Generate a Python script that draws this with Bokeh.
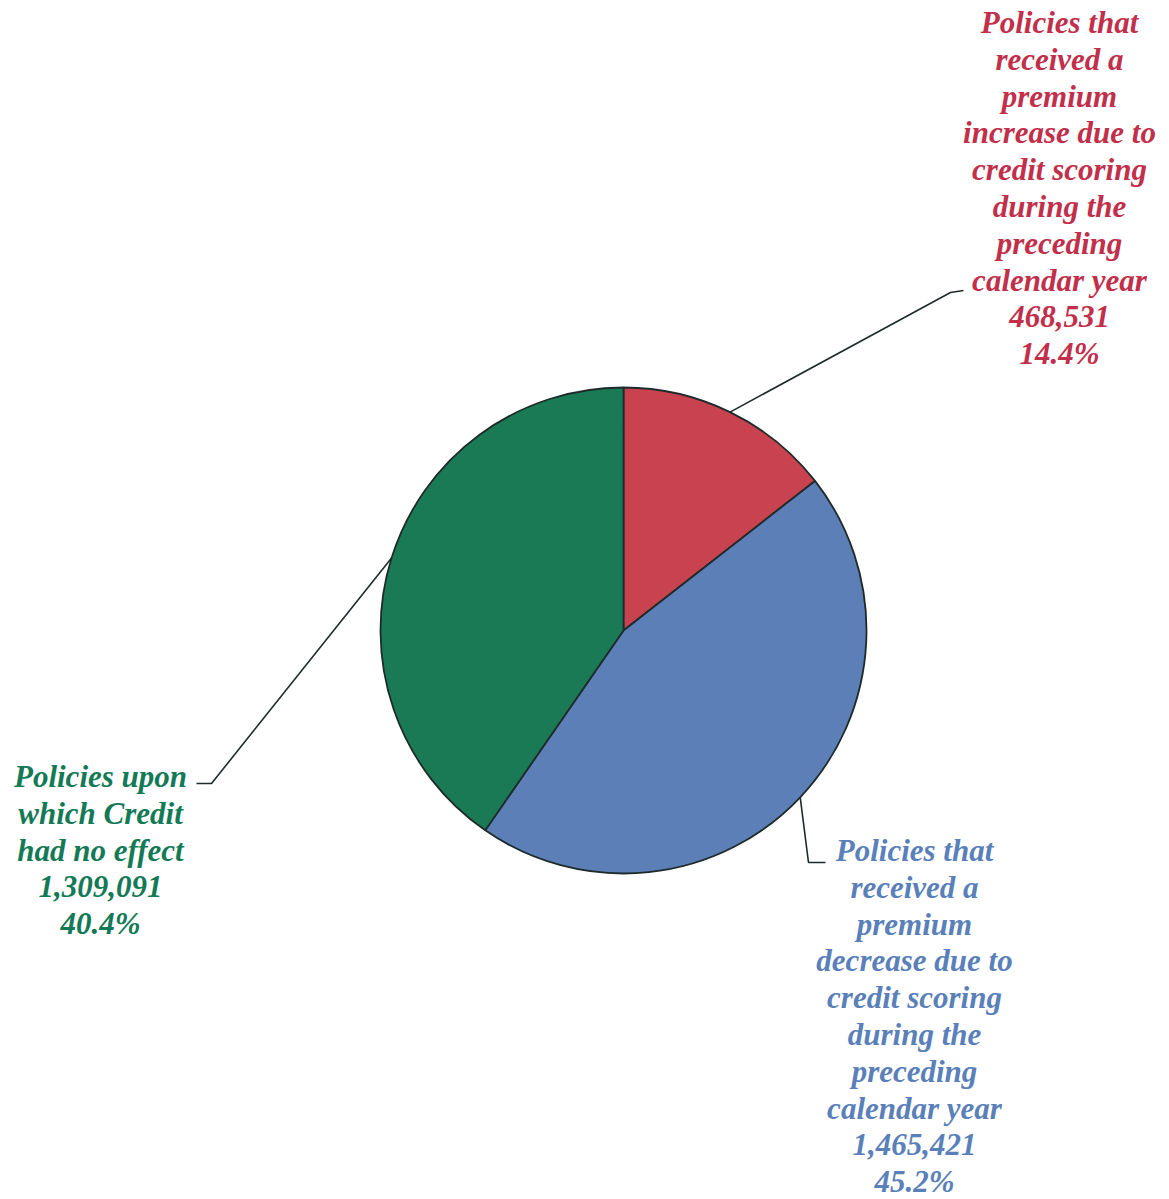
import math
from bokeh.plotting import figure
from bokeh.models import Range1d
from bokeh.core.properties import value
from bokeh.embed import file_html
from bokeh.resources import INLINE

# ---- data ----
categories = ["Increase", "Decrease", "No effect"]
counts = [468531, 1465421, 1309091]
slice_colors = ["#c8424f", "#5b7fb6", "#1b7a56"]
text_colors = ["#c22f4a", "#5a80b9", "#147a56"]
label_lines = [
    ["Policies that", "received a", "premium", "increase due to", "credit scoring",
     "during the", "preceding", "calendar year"],
    ["Policies that", "received a", "premium", "decrease due to", "credit scoring",
     "during the", "preceding", "calendar year"],
    ["Policies upon", "which Credit", "had no effect"],
]

W, H = 1169, 1199
p = figure(width=W, height=H, output_backend="svg", toolbar_location=None,
           x_range=Range1d(0, W), y_range=Range1d(0, H), min_border=0)
p.axis.visible = False
p.grid.visible = False
p.outline_line_color = None
p.background_fill_color = "white"
p.border_fill_color = "white"

cx, cy, R = 623, H - 630, 243
total = sum(counts)
fracs = [c / total for c in counts]

# slices clockwise from 12 o'clock
ang = math.pi / 2
mids = []
for f, col in zip(fracs, slice_colors):
    end = ang
    start = ang - 2 * math.pi * f
    p.wedge(x=cx, y=cy, radius=R, start_angle=start, end_angle=end,
            fill_color=col, line_color="#1f2b2b", line_width=1.8)
    mids.append((start + end) / 2)
    ang = start

# leader lines: (elbow point, end point) in pixels, layout only
leaders = [
    [(950, 292), (963, 290)],
    [(808, 862), (825, 862)],
    [(211, 783), (196, 783)],
]
for m, pts in zip(mids, leaders):
    xs = [cx + R * math.cos(m)] + [q[0] for q in pts]
    ys = [cy + R * math.sin(m)] + [H - q[1] for q in pts]
    p.line(xs, ys, line_color="#1f2b2b", line_width=1.6)

# labels
label_pos = [(1059, 22), (914, 850), (100, 776)]
step = 36.8
for i in range(3):
    lines = label_lines[i] + ["{:,}".format(counts[i]), "{:.1f}%".format(fracs[i] * 100)]
    x0, y0 = label_pos[i]
    ys = [H - (y0 + k * step) for k in range(len(lines))]
    p.text(x=[x0] * len(lines), y=ys, text=lines, text_color=text_colors[i],
           text_font=value("Liberation Serif"), text_font_size="31px",
           text_font_style="bold italic", text_align="center", text_baseline="middle")

open("out.html", "w").write(file_html(p, INLINE))
